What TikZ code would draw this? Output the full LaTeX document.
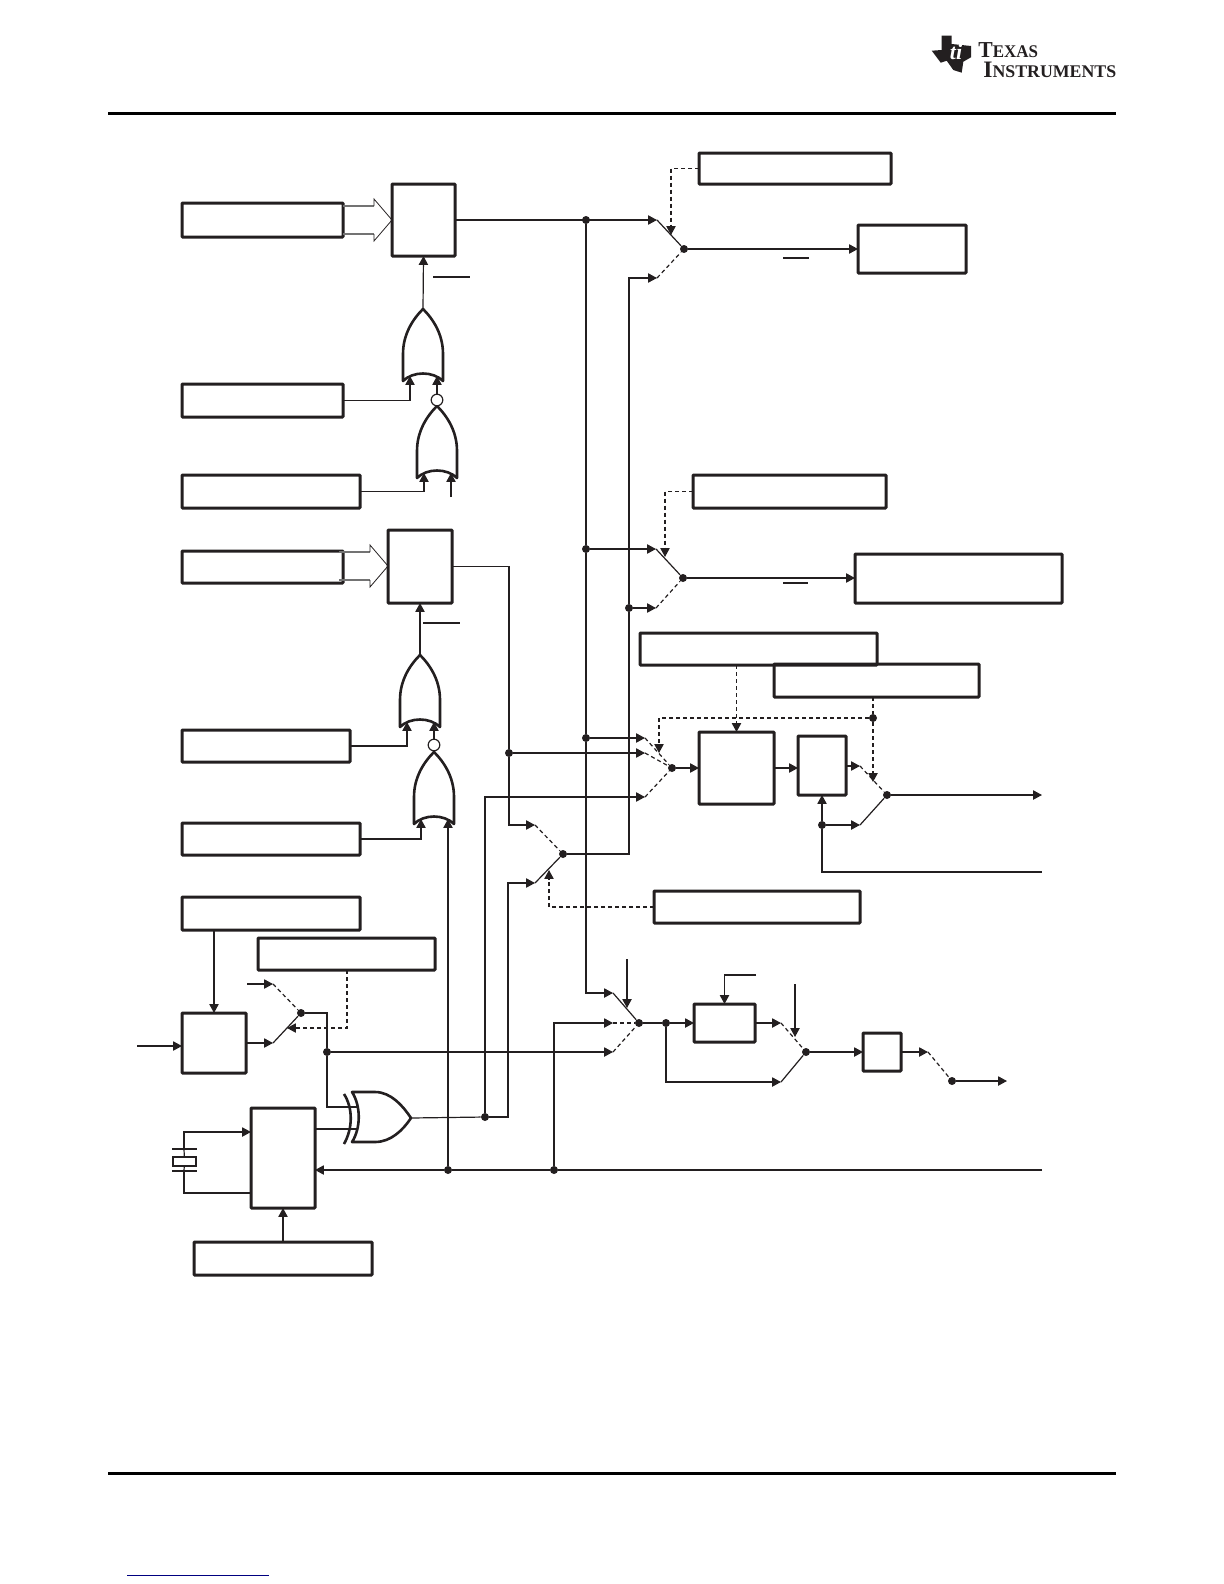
\documentclass[tikz,border=0pt]{standalone}
\usepackage{xcolor}
\usepackage{fontspec}
\setmainfont{Liberation Serif}
\usepackage{tikz}
\usetikzlibrary{arrows.meta, calc, fit}

\definecolor{tiblack}{HTML}{231F20}
\definecolor{linkblue}{HTML}{000080}

\tikzset{
    wire/.style={color=tiblack, line width=0.6pt},
    sig/.style={wire, -{Triangle[length=4.4pt,width=4.6pt]}},
    swoff/.style={wire, dash pattern=on 2pt off 1.5pt},
    swsig/.style={swoff, -{Triangle[length=4.4pt,width=4.6pt]}},
    blk/.style={draw=tiblack, line width=1.5pt, inner sep=0pt, outer sep=0pt, rounded corners=0.4pt},
    dot/.style={circle, fill=tiblack, inner sep=0pt, minimum size=4pt},
    bubble/.style={circle, draw=tiblack, line width=0.6pt, fill=white, inner sep=0pt, minimum size=5.8pt},
    rule/.style={color=black, line width=1.5pt},
    orgate/.pic={
        \draw[color=tiblack, line width=1.3pt, line join=round] (-20,72) -- (-20,45) .. controls (-20,25) and (-10,10) .. (0,0) .. controls (10,10) and (20,25) .. (20,45) -- (20,72) .. controls (10,62) and (-10,62) .. cycle;
        \coordinate (-out) at (0,0);
        \coordinate (-pa) at (-13,67);
        \coordinate (-pb) at (14,67);
    },
    xorgate/.pic={
        \draw[color=tiblack, line width=1.3pt, line join=round] (-59,-26) -- (-36,-26) .. controls (-20,-26) and (-8,-12) .. (0,0) .. controls (-8,12) and (-20,24) .. (-36,24) -- (-59,24) .. controls (-50,10) and (-50,-12) .. cycle;
        \draw[color=tiblack, line width=1.3pt] (-67,-24) .. controls (-58,-10) and (-58,10) .. (-67,26);
        \coordinate (-out) at (0,0);
        \coordinate (-pa) at (-54,-11);
        \coordinate (-pb) at (-54,11);
    },
    busarrow/.pic={
        \draw[color=black!55, line width=0.7pt] (-49,-14) -- (-18,-14) (-49,14) -- (-18,14);
        \draw[color=tiblack, line width=0.4pt] (-18,-14) -- (-18,-21) -- (0,0) -- (-18,21) -- (-18,14);
    }
}

\begin{document}
\begin{tikzpicture}[x=0.5pt, y=-0.5pt]
        \useasboundingbox (0,0) rectangle (1224,1584);

        \draw[rule] (108,114) -- (1116,114);
        \draw[rule] (108,1473) -- (1116,1473);
        \draw[color=linkblue, line width=0.5pt] (127,1575) -- (269,1575);

        \fill[tiblack] (941.7,35.7) -- (951.7,35.7) -- (951.7,44) -- (971,46) -- (971,57.3) -- (963.3,61.7) -- (961.7,72.7) -- (953.3,70) -- (946.7,60.7) -- (940.7,62.7) -- (931.7,50.7) -- (941.7,50) -- cycle;
        \node[color=white, inner sep=0pt, font=\fontsize{11}{11}\selectfont\bfseries\itshape] (logoMark) at (956,52) {ti};
        \node[anchor=base west, inner sep=0pt, color=tiblack, xscale=0.95] (logoTop) at (978,58) {\bfseries\fontsize{11.4}{12}\selectfont T\fontsize{8.9}{12}\selectfont EXAS};
        \node[anchor=base west, inner sep=0pt, color=tiblack] (logoBot) at (983,78) {\bfseries\fontsize{11.8}{12}\selectfont I\fontsize{8.9}{12}\selectfont NSTRUMENTS};

        \node[blk, fit={(182,203) (343,237)}] (regA) {};
        \node[blk, fit={(392,184) (455,256)}] (latchA) {};
        \node[blk, fit={(182,384) (343,417)}] (regB) {};
        \node[blk, fit={(182,475) (360,508)}] (regC) {};
        \node[blk, fit={(182,551) (343,583)}] (regD) {};
        \node[blk, fit={(388,530) (452,603)}] (latchB) {};
        \node[blk, fit={(182,730) (350,762)}] (regE) {};
        \node[blk, fit={(182,823) (360,855)}] (regF) {};
        \node[blk, fit={(182,897) (360,930)}] (regG) {};
        \node[blk, fit={(258,938) (435,970)}] (regH) {};
        \node[blk, fit={(182,1013) (246,1073)}] (divH) {};
        \node[blk, fit={(251,1108) (315,1208)}] (pll) {};
        \node[blk, fit={(194,1242) (372,1275)}] (regJ) {};

        \node[blk, fit={(699,153) (891,184)}] (ctlA) {};
        \node[blk, fit={(858,225) (966,273)}] (loadA) {};
        \node[blk, fit={(693,475) (886,508)}] (ctlB) {};
        \node[blk, fit={(855,554) (1062,603)}] (loadB) {};
        \node[blk, fit={(640,633) (877,665)}] (ctlC) {};
        \node[blk, fit={(774,664) (979,697)}] (ctlD) {};
        \node[blk, fit={(654,891) (860,923)}] (ctlE) {};
        \node[blk, fit={(699,732) (774,804)}] (blkC) {};
        \node[blk, fit={(798,736) (846,795)}] (blkD) {};
        \node[blk, fit={(694,1004) (755,1042)}] (blkE) {};
        \node[blk, fit={(863,1033) (901,1071)}] (blkF) {};
        \node[draw=tiblack, line width=0.6pt, inner sep=0pt, outer sep=0pt, fit={(173,1157) (196,1166)}] (xtal) {};

        \pic at (392,220) {busarrow};
        \pic at (388,566) {busarrow};

        \pic (gateA) at (423,309) {orgate};
        \pic (gateB) at (437,406) {orgate};
        \pic (gateC) at (420,655) {orgate};
        \pic (gateD) at (434,752) {orgate};
        \pic (xor) at (411,1118) {xorgate};
        \node[bubble] (bubA) at (437,400) {};
        \node[bubble] (bubB) at (434,745) {};

        \node[dot] (muxA) at (684,249) {};
        \node[dot] (muxB) at (683,578) {};
        \node[dot] (muxC) at (672,768) {};
        \node[dot] (muxD) at (887,795) {};
        \node[dot] (muxE) at (563,854) {};
        \node[dot] (muxG) at (639,1023) {};
        \node[dot] (muxH) at (301,1013) {};
        \node[dot] (muxI) at (806,1052) {};
        \node[dot] (muxJ) at (952,1081) {};
        \node[dot] (forkA) at (586,220) {};
        \node[dot] (forkB) at (586,549) {};
        \node[dot] (forkC) at (586,738) {};
        \node[dot] (forkD) at (629,608) {};
        \node[dot] (forkE) at (822,825) {};
        \node[dot] (forkF) at (873,718) {};
        \node[dot] (forkG) at (509,753) {};
        \node[dot] (forkH) at (485,1117) {};
        \node[dot] (forkI) at (327,1052) {};
        \node[dot] (forkJ) at (448,1170) {};
        \node[dot] (forkK) at (554,1170) {};
        \node[dot] (forkL) at (666,1023) {};

        \coordinate (muxAa) at (657,220);
        \coordinate (muxAb) at (657,278);
        \coordinate (muxAc) at (671,235);
        \coordinate (muxBa) at (656,549);
        \coordinate (muxBb) at (656,608);
        \coordinate (muxBc) at (665,557);
        \coordinate (muxCa) at (645,738);
        \coordinate (muxCb) at (645,753);
        \coordinate (muxCc) at (645,797);
        \coordinate (muxCd) at (659,753);
        \coordinate (muxDa) at (860,766);
        \coordinate (muxDb) at (860,825);
        \coordinate (muxDc) at (873,782);
        \coordinate (muxEa) at (535,825);
        \coordinate (muxEb) at (535,883);
        \coordinate (muxEc) at (549,870);
        \coordinate (muxGa) at (613,993);
        \coordinate (muxGb) at (613,1023);
        \coordinate (muxGc) at (613,1052);
        \coordinate (muxGd) at (627,1008);
        \coordinate (muxHa) at (273,984);
        \coordinate (muxHb) at (273,1043);
        \coordinate (muxHc) at (287,1028);
        \coordinate (muxIa) at (781,1023);
        \coordinate (muxIb) at (781,1082);
        \coordinate (muxIc) at (795,1037);
        \coordinate (muxJa) at (928,1052);
        \coordinate (freeB) at (451,497);
        \coordinate (freeDiv) at (137,1046);
        \coordinate (freeG) at (627,959);
        \coordinate (freeE) at (756,975);
        \coordinate (freeH) at (247,984);
        \coordinate (freeI) at (795,984);
        \coordinate (endD) at (1042,795);
        \coordinate (endF) at (1042,872);
        \coordinate (endJ) at (1007,1081);
        \coordinate (endK) at (1042,1170);
        \coordinate (turnH) at (508,1117);
        \coordinate (turnK) at (347,1028);
        \coordinate (plateA) at (184,1149);
        \coordinate (plateB) at (184,1171);
        \coordinate (pllIn) at (251,1132);
        \coordinate (pllOut) at (251,1193);

        \draw[sig] (gateA-out) -- (latchA.south);
        \draw[sig] (regB.east) -| (gateA-pa);
        \draw[sig] (bubA) -- (gateA-pb);
        \draw[sig] (regC.east) -| (gateB-pa);
        \draw[sig] (freeB) -- (gateB-pb);
        \draw[sig] (gateC-out) -- (latchB.south);
        \draw[sig] (regE.east) -| (gateC-pa);
        \draw[sig] (bubB) -- (gateC-pb);
        \draw[sig] (regF.east) -| (gateD-pa);
        \draw[sig] (forkJ) -- (gateD-pb);

        \draw[sig] (latchA.east) -- (muxAa);
        \draw[wire] (muxAa) -- (muxA);
        \draw[swoff] (muxAb) -- (muxA);
        \draw[sig] (muxA) -- (loadA);
        \draw[swsig] (ctlA.west) -| (muxAc);

        \draw[wire] (forkA) -- (forkB) -- (forkC);
        \draw[sig] (forkB) -- (muxBa);
        \draw[wire] (muxBa) -- (muxB);
        \draw[swoff] (muxBb) -- (muxB);
        \draw[sig] (muxB) -- (loadB.west |- muxB);
        \draw[sig] (forkD) -- (muxBb);
        \draw[swsig] (ctlB.west) -| (muxBc);

        \draw[wire] (muxE) -| (forkD);
        \draw[sig] (forkD) |- (muxAb);

        \draw[wire] (latchB.east) -| (forkG);
        \draw[sig] (forkG) |- (muxEa);
        \draw[sig] (forkG) -- (muxCb);
        \draw[sig] (forkC) -- (muxCa);
        \draw[sig] (forkH) |- (muxCc);
        \draw[swoff] (muxCa) -- (muxC);
        \draw[swoff] (muxCb) -- (muxC);
        \draw[swoff] (muxCc) -- (muxC);
        \draw[sig] (muxC) -- (blkC.west);
        \draw[sig] (blkC.east) -- (blkC.east -| blkD.west);
        \draw[swsig] (ctlC.south -| blkC.north) -- (blkC.north);
        \draw[swoff] (ctlD.south -| forkF) -- (forkF);
        \draw[swsig] (forkF) -| (muxCd);
        \draw[swsig] (forkF) -- (muxDc);

        \draw[sig] (blkD.east |- muxDa) -- (muxDa);
        \draw[swoff] (muxDa) -- (muxD);
        \draw[wire] (muxDb) -- (muxD);
        \draw[sig] (forkE) -- (muxDb);
        \draw[sig] (forkE) -- (blkD.south);
        \draw[wire] (forkE) |- (endF);
        \draw[sig] (muxD) -- (endD);

        \draw[swoff] (muxEa) -- (muxE);
        \draw[wire] (muxEb) -- (muxE);
        \draw[swsig] (ctlE.west) -| (muxEc);
        \draw[sig] (forkH) -- (turnH) |- (muxEb);

        \draw[wire] (xor-out) -- (forkH);
        \draw[wire] (pll.east |- xor-pb) -- (xor-pb);
        \draw[wire] (forkI) |- (xor-pa);

        \draw[sig] (regG.south -| divH.north) -- (divH.north);
        \draw[sig] (freeDiv) -- (freeDiv -| divH.west);
        \draw[sig] (divH.east) -- (muxHb);
        \draw[wire] (muxHb) -- (muxH);
        \draw[sig] (freeH) -- (muxHa);
        \draw[swoff] (muxHa) -- (muxH);
        \draw[swsig] (regH.south -| turnK) -- (turnK) -- (muxHc);
        \draw[wire] (muxH) -| (forkI);
        \draw[sig] (forkI) -- (muxGc);

        \draw[sig] (forkC) |- (muxGa);
        \draw[sig] (forkK) |- (muxGb);
        \draw[wire] (muxGa) -- (muxG);
        \draw[swoff] (muxGb) -- (muxG);
        \draw[swoff] (muxGc) -- (muxG);
        \draw[sig] (freeG) -- (muxGd);
        \draw[wire] (muxG) -- (forkL);
        \draw[sig] (forkL) -- (blkE.west);
        \draw[sig] (forkL) |- (muxIb);
        \draw[sig] (freeE) -| (blkE.north);
        \draw[sig] (blkE.east) -- (muxIa);
        \draw[swoff] (muxIa) -- (muxI);
        \draw[wire] (muxIb) -- (muxI);
        \draw[sig] (freeI) -- (muxIc);
        \draw[sig] (muxI) -- (blkF.west);
        \draw[sig] (blkF.east) -- (muxJa);
        \draw[swoff] (muxJa) -- (muxJ);
        \draw[sig] (muxJ) -- (endJ);

        \draw[wire] (endK) -- (forkK) -- (forkJ);
        \draw[sig] (forkJ) -- (pll.east |- forkJ);
        \draw[sig] (regJ) -- (pll);

        \draw[wire] (172,1149) -- (197,1149);
        \draw[wire] (172,1171) -- (197,1171);
        \draw[sig] (plateA) |- (pllIn);
        \draw[wire] (plateA) -- (xtal);
        \draw[wire] (plateB) -- (xtal);
        \draw[wire] (plateB) |- (pllOut);

        \draw[wire] (433,277) -- (470,277);
        \draw[wire] (423,623) -- (460,623);
        \draw[wire] (783,258) -- (809,258);
        \draw[wire] (783,583) -- (808,583);
    \end{tikzpicture}
\end{document}
